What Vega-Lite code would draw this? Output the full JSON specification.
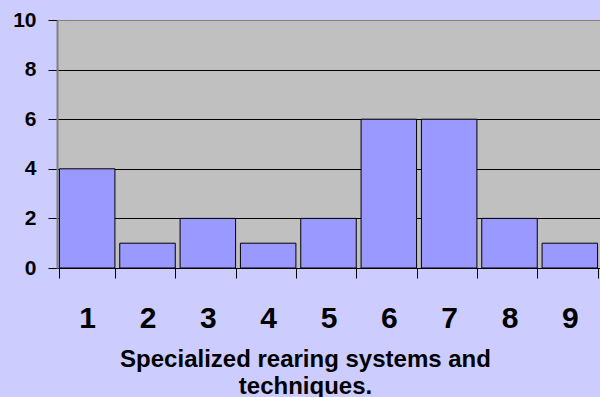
{
  "$schema": "https://vega.github.io/schema/vega-lite/v6.json",
  "autosize": "none",
  "width": 543,
  "height": 248,
  "padding": {"left": 57, "top": 20, "right": 0, "bottom": 129},
  "background": "#CCCCFF",
  "view": {"fill": "#C0C0C0", "stroke": null},
  "data": {"values": [
    {"item": "1", "count": 4},
    {"item": "2", "count": 1},
    {"item": "3", "count": 2},
    {"item": "4", "count": 1},
    {"item": "5", "count": 2},
    {"item": "6", "count": 6},
    {"item": "7", "count": 6},
    {"item": "8", "count": 2},
    {"item": "9", "count": 1}
  ]},
  "mark": {"type": "bar", "fill": "#9999FF", "stroke": "#000000", "strokeWidth": 1},
  "encoding": {
    "x": {
      "field": "item", "type": "ordinal",
      "scale": {"paddingInner": 0.08, "paddingOuter": 0.04},
      "axis": {
        "title": ["Specialized rearing systems and", "techniques."],
        "titleFont": "Liberation Sans", "titleFontSize": 24, "titleFontWeight": "bold", "titleColor": "#000000",
        "titleX": 248, "titleY": 98, "titleAnchor": "middle", "titleAlign": "center", "titleBaseline": "alphabetic", "titleLineHeight": 27,
        "labelAngle": 0, "labelFont": "Liberation Sans", "labelFontSize": 30, "labelFontWeight": "bold", "labelColor": "#000000",
        "labelBaseline": "alphabetic", "labelPadding": 49,
        "domainColor": "#000000", "domainWidth": 1,
        "tickColor": "#000000", "tickSize": 10, "tickBand": "extent", "ticks": true
      }
    },
    "y": {
      "field": "count", "type": "quantitative",
      "scale": {"domain": [0, 10], "nice": false},
      "axis": {
        "title": null, "values": [0, 2, 4, 6, 8, 10],
        "labelFont": "Liberation Sans", "labelFontSize": 21, "labelFontWeight": "bold", "labelColor": "#000000",
        "labelPadding": 12,
        "domainColor": "#808080", "domainWidth": 2,
        "tickColor": "#000000", "tickSize": 9,
        "grid": true,
        "gridColor": {"condition": {"test": "datum.value === 10", "value": "#808080"}, "value": "#000000"},
        "gridWidth": 1, "gridOpacity": 1
      }
    }
  }
}
